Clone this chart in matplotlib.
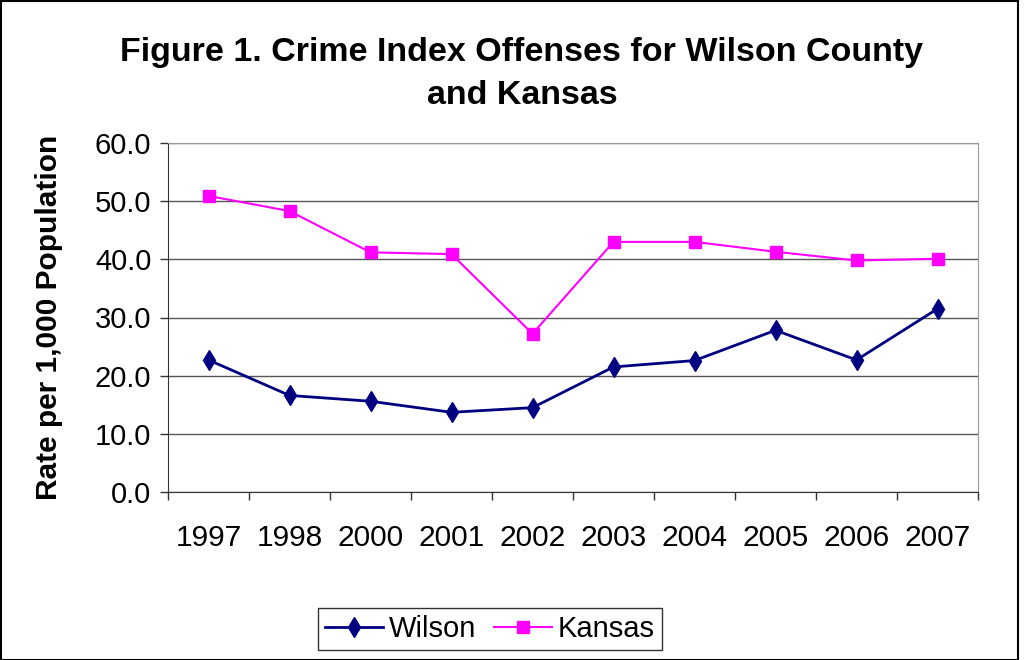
import matplotlib
matplotlib.use("Agg")
import matplotlib.pyplot as plt
from matplotlib.patches import Rectangle

years = ["1997", "1998", "2000", "2001", "2002", "2003", "2004", "2005", "2006", "2007"]
wilson = [22.7, 16.6, 15.6, 13.7, 14.5, 21.5, 22.6, 27.8, 22.7, 31.5]
kansas = [50.9, 48.3, 41.2, 40.9, 27.2, 43.0, 43.0, 41.3, 39.8, 40.1]
yticks = [0, 10, 20, 30, 40, 50, 60]

plt.rcParams['font.family'] = ['Liberation Sans', 'DejaVu Sans']

W, H = 1029, 660
fig = plt.figure(figsize=(W / 100, H / 100), dpi=100)
ax = fig.add_axes([168 / W, 1 - 492 / H, (978 - 168) / W, (492 - 143) / H])

x = list(range(len(years)))
ax.plot(x, wilson, color='#000080', lw=2, marker='d', markersize=10, label='Wilson', zorder=3)
ax.plot(x, kansas, color='#FF00FF', lw=1.5, marker='s', markersize=9, label='Kansas', zorder=3)

ax.set_xlim(-0.5, len(years) - 0.5)
ax.set_ylim(0, 60)
ax.set_yticks(yticks)
ax.set_yticklabels([f"{v:.1f}" for v in yticks], fontsize=21)
ax.set_xticks(x)
ax.set_xticklabels(years, fontsize=21.5)
ax.tick_params(axis='x', which='major', length=0, pad=23)
ax.set_xticks([i - 0.5 for i in range(len(years) + 1)], minor=True)
ax.tick_params(axis='x', which='minor', length=6, width=1, color='#333333')
ax.tick_params(axis='y', length=6, width=1, color='#333333', pad=6)
ax.grid(axis='y', color='#555555', lw=1)
for s in ['top', 'right']:
    ax.spines[s].set_color('#999999')
for s in ['left', 'bottom']:
    ax.spines[s].set_color('#333333')
ax.set_ylabel('Rate per 1,000 Population', fontsize=21.5, fontweight='bold', labelpad=23)

fig.text(522 / W, 1 - 52 / H, 'Figure 1. Crime Index Offenses for Wilson County',
         ha='center', va='center', fontsize=24.5, fontweight='bold')
fig.text(522 / W, 1 - 96 / H, 'and Kansas',
         ha='center', va='center', fontsize=24.5, fontweight='bold')

leg = fig.legend(loc='center', bbox_to_anchor=(490 / W, 1 - 629 / H), ncol=2,
                 fontsize=21, frameon=True, fancybox=False, edgecolor='black',
                 handlelength=2.0, columnspacing=0.6, handletextpad=0.2, borderpad=0.25)
leg.get_frame().set_linewidth(1)

fig.patches.append(Rectangle((1 / W, 0), 1017 / W, 1 - 1 / H, transform=fig.transFigure,
                             fill=False, edgecolor='black', lw=1.5))

fig.savefig('out.png', dpi=100)
